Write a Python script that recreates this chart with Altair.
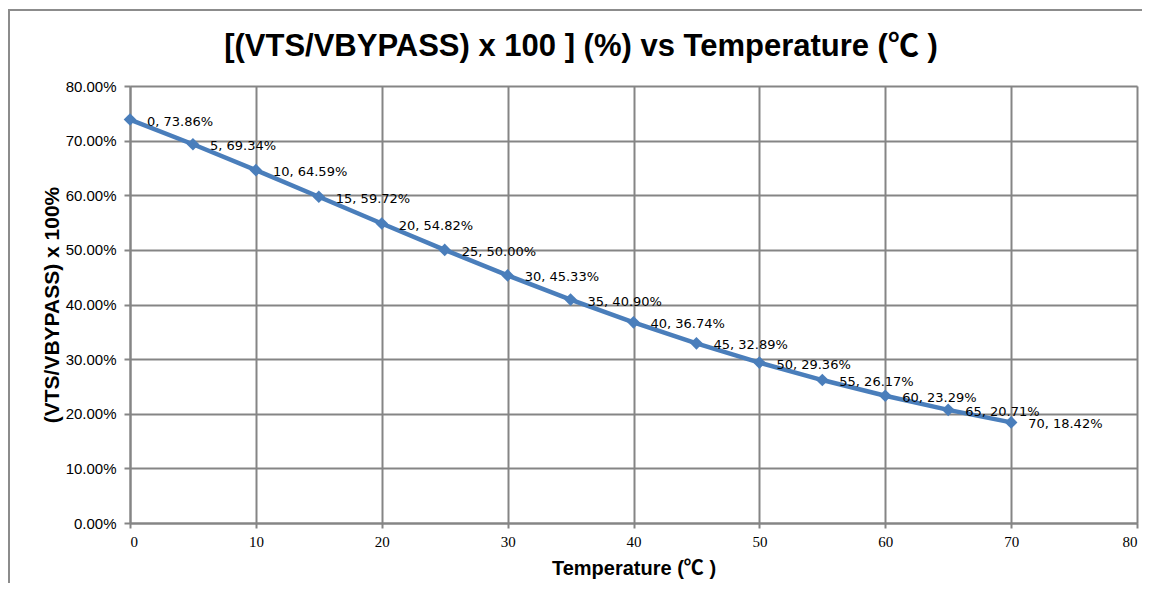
import altair as alt
import pandas as pd

temps = [0, 5, 10, 15, 20, 25, 30, 35, 40, 45, 50, 55, 60, 65, 70]
ratios = [0.7386, 0.6934, 0.6459, 0.5972, 0.5482, 0.5000, 0.4533, 0.4090,
          0.3674, 0.3289, 0.2936, 0.2617, 0.2329, 0.2071, 0.1842]
labels = [f"{t}, {r*100:.2f}%" for t, r in zip(temps, ratios)]

title_text = "[(VTS/VBYPASS) x 100 ] (%) vs Temperature  (℃ )"
x_title = "Temperature (℃ )"
y_title = "(VTS/VBYPASS) x 100%"

df = pd.DataFrame({"t": temps, "r": ratios, "label": labels})

W, H = 1007, 437
GRID = "#858585"
BLUE = "#4A7EBB"
SANS = "Liberation Sans, Noto Sans CJK JP"

x_enc = alt.X("t:Q", scale=alt.Scale(domain=[0, 80], nice=False),
              axis=alt.Axis(values=list(range(0, 81, 10)), title=x_title,
                            labelFont="Liberation Serif", labelFontSize=15,
                            labelColor="#000", labelPadding=6,
                            titleFont=SANS, titleFontSize=20,
                            titleFontWeight="bold", titleColor="#000",
                            titlePadding=9, tickSize=5, tickWidth=2,
                            tickColor=GRID, domainColor=GRID, domainWidth=2,
                            gridColor=GRID, gridWidth=2))
y_enc = alt.Y("r:Q", scale=alt.Scale(domain=[0, 0.8], nice=False),
              axis=alt.Axis(values=[i / 10 for i in range(0, 9)], format=".2%",
                            title=y_title, labelFont="Liberation Sans",
                            labelFontSize=15, labelColor="#000", labelPadding=8,
                            titleFont=SANS, titleFontSize=21,
                            titleFontWeight="bold", titleColor="#000",
                            titlePadding=3, tickSize=6, tickWidth=2,
                            tickColor=GRID, domainColor=GRID, domainWidth=2,
                            gridColor=GRID, gridWidth=2))

one = alt.Data(values=[{"a": 1}])
border = alt.Chart(one).mark_rect(
    fill=None, stroke="#8c8c8c", strokeWidth=2
).encode(x=alt.value(-121), x2=alt.value(1300), y=alt.value(-76), y2=alt.value(700))

title = alt.Chart(one).mark_text(
    text=title_text, font=SANS, fontSize=31, fontWeight="bold", color="#000",
    align="center", baseline="middle"
).encode(x=alt.value(451), y=alt.value(-39))

base = alt.Chart(df)
line = base.mark_line(color=BLUE, strokeWidth=4.5).encode(x=x_enc, y=y_enc)
pts = base.mark_point(shape="diamond", filled=True, color=BLUE, size=160, opacity=1).encode(x="t:Q", y="r:Q")
txt = base.mark_text(align="left", baseline="middle", dx=17, dy=2,
                     font="DejaVu Sans", fontSize=13, color="#000").encode(
    x="t:Q", y="r:Q", text="label:N")

chart = alt.layer(border, title, line, pts, txt).properties(
    width=W, height=H,
    autosize=alt.AutoSizeParams(type="none"),
    padding={"left": 122, "top": 78, "right": 5, "bottom": 60},
).configure_view(stroke=None).configure(background="white")

chart.save("out.html", embed_options={"renderer": "svg", "actions": False})
